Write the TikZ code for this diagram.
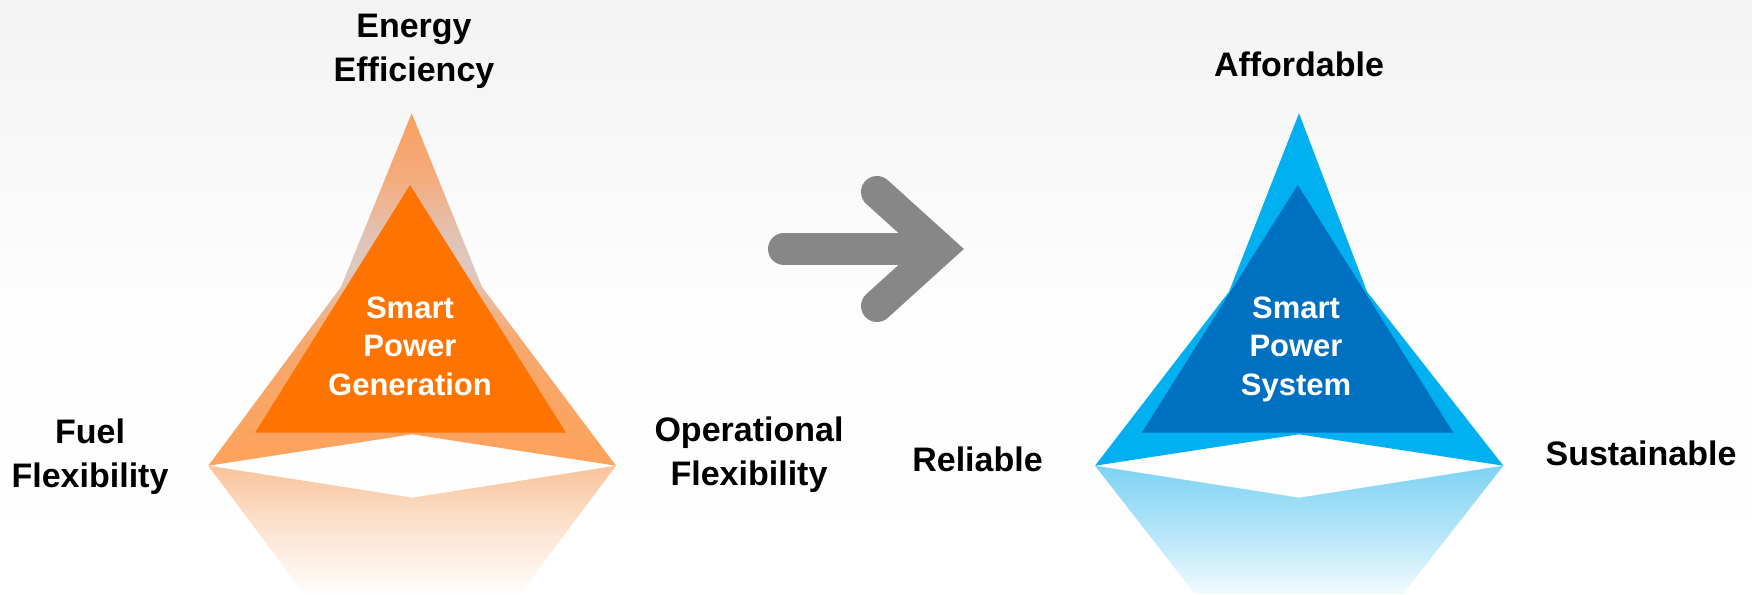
\documentclass[tikz,border=0pt]{standalone}
\usepackage{fontspec}
\setmainfont{Liberation Sans}
\definecolor{bgtop}{HTML}{F3F3F3}
\definecolor{bgmid}{HTML}{FDFDFD}
\definecolor{orIn}{HTML}{FF7400}
\definecolor{orA}{HTML}{FAA05E}
\definecolor{orB}{HTML}{F4AC7E}
\definecolor{orC}{HTML}{E2C2B4}
\definecolor{orD}{HTML}{DEC9C0}
\definecolor{orE}{HTML}{EBB99A}
\definecolor{orF}{HTML}{F7A86E}
\definecolor{orG}{HTML}{FDA35C}
\definecolor{orRa}{HTML}{F9C399}
\definecolor{orRb}{HTML}{FCE0CB}
\definecolor{orRc}{HTML}{FFFDFB}
\definecolor{blOut}{HTML}{00B0F0}
\definecolor{blIn}{HTML}{0070C0}
\definecolor{blRa}{HTML}{7DD3F4}
\definecolor{blRb}{HTML}{B5E5F8}
\definecolor{blRc}{HTML}{F2FBFE}
\definecolor{arrowgray}{HTML}{878787}
\pgfdeclareverticalshading{bgshade}{100bp}{color(0bp)=(white); color(25bp)=(white); color(50bp)=(bgmid); color(75bp)=(bgtop); color(100bp)=(bgtop)}
\pgfdeclareverticalshading{orglass}{100bp}{color(0bp)=(orG); color(25bp)=(orG); color(42.8bp)=(orF); color(48.5bp)=(orE); color(52.8bp)=(orD); color(57.7bp)=(orC); color(65.5bp)=(orB); color(75bp)=(orA); color(100bp)=(orA)}
\pgfdeclareverticalshading{orrefl}{100bp}{color(0bp)=(orRc); color(25bp)=(orRc); color(53.8bp)=(orRb); color(75bp)=(orRa); color(100bp)=(orRa)}
\pgfdeclareverticalshading{blrefl}{100bp}{color(0bp)=(blRc); color(25bp)=(blRc); color(48.8bp)=(blRb); color(75bp)=(blRa); color(100bp)=(blRa)}
\begin{document}
\begin{tikzpicture}[x=1pt,y=-1pt,
  lbl/.style={font=\fontsize{34}{44}\selectfont\bfseries, align=center, anchor=base, inner sep=0pt, text=black},
  inlbl/.style={font=\fontsize{31}{38.3}\selectfont\bfseries, align=center, anchor=base, inner sep=0pt, text=white},
  arrowline/.style={draw=arrowgray, line width=32pt}]
\shade[shading=bgshade] (0,0) rectangle (1752,594);
\useasboundingbox (0,0) rectangle (1752,594);
% ---- orange pyramid ----
\shade[shading=orrefl] (208.3,465.7) -- (412.3,497.7) -- (616,465.7) -- (520,594) -- (304,594) -- cycle;
\shade[shading=orglass] (411.7,113.3) -- (482,287) -- (616,465.7) -- (412.3,434.3) -- (208.3,465.7) -- (341,287) -- cycle;
\fill[orIn] (410,185) -- (566,432.7) -- (255,432.7) -- cycle;
% ---- blue pyramid ----
\shade[shading=blrefl] (1095,465.7) -- (1299,497.7) -- (1503.3,465.7) -- (1403,594) -- (1195,594) -- cycle;
\fill[blOut] (1299,113.3) -- (1367,291.7) -- (1503.3,465.7) -- (1299,434.3) -- (1095,465.7) -- (1229,291.7) -- cycle;
\fill[blIn] (1297.7,185) -- (1453.3,432.7) -- (1141.7,432.7) -- cycle;
% ---- arrow ----
\coordinate (ashaft) at (784,249);
\coordinate (ashaftend) at (920,249);
\coordinate (atip) at (940,249);
\coordinate (aup) at (877,192);
\coordinate (adn) at (877,306);
\draw[arrowline, line cap=round] (ashaft) -- (ashaftend);
\draw[arrowline, line cap=round, line join=miter, miter limit=10] (aup) -- (atip) -- (adn);
% ---- labels (anchor base = baseline of last line) ----
\node[lbl] (energy) at (414,81.7) {Energy\\Efficiency};
\node[lbl] (fuel) at (90,487.3) {Fuel\\Flexibility};
\node[lbl] (oper) at (749,485) {Operational\\Flexibility};
\node[lbl] (reliable) at (977.5,471.7) {Reliable};
\node[lbl] (sustain) at (1641,465) {Sustainable};
\node[lbl] (afford) at (1299,76.7) {Affordable};
\node[inlbl] (spg) at (410,395) {Smart\\Power\\Generation};
\node[inlbl] (sps) at (1296,395) {Smart\\Power\\System};
\end{tikzpicture}
\end{document}
